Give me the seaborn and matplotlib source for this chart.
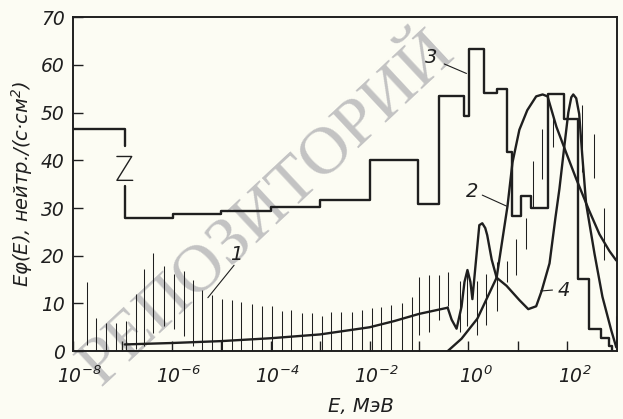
import matplotlib
matplotlib.use('Agg')
import matplotlib.pyplot as plt
import matplotlib.transforms as mtransforms
import numpy as np
import seaborn as sns

# all energies below are log10(E / MeV), values are E*phi(E)

# curve 1 - smooth low-energy part
c1_loge = [-6.95, -6.0, -5.0, -4.0, -3.0, -2.0, -1.5, -1.0, -0.42]
c1_val = [1.4, 1.7, 2.1, 2.7, 3.5, 5.0, 6.3, 7.8, 9.1]

# curve 4 - resonances and the narrow peak near 10^2
c4_loge = [-0.42, -0.34, -0.24, -0.14, -0.08, -0.02, 0.04, 0.08, 0.14, 0.22, 0.28,
           0.34, 0.38, 0.47, 0.57, 0.77, 1.03, 1.21, 1.37, 1.48, 1.64, 1.76, 1.84,
           1.94, 2.02, 2.08, 2.12, 2.18, 2.24, 2.30, 2.38, 2.55, 2.71, 2.89, 2.99]
c4_val = [9.1, 6.6, 4.7, 9.3, 14.5, 17.0, 14.5, 10.9, 17.6, 26.4, 26.8,
          25.8, 24.3, 19.2, 15.4, 13.7, 10.7, 8.8, 9.4, 12.6, 18.4, 28.0, 34.0,
          43.0, 50.0, 53.2, 53.8, 53.0, 49.7, 41.3, 30.9, 20.4, 11.4, 4.3, 0.8]

# curve 2 - wide bell
c2_loge = [-0.42, -0.14, 0.18, 0.57, 0.79, 0.89, 1.03, 1.19, 1.37, 1.50, 1.60,
           1.78, 1.98, 2.18, 2.44, 2.65, 2.85, 2.99]
c2_val = [0.0, 2.6, 6.8, 15.4, 30.4, 39.5, 46.4, 50.5, 53.4, 53.8, 53.4,
          47.0, 41.5, 36.1, 29.5, 24.5, 21.0, 19.0]

# curve 3 - group histogram
h3_edges = [-8.0, -6.95, -5.98, -5.0, -4.0, -3.0, -2.0, -1.03, -0.59, -0.08, 0.02,
            0.32, 0.57, 0.79, 0.89, 1.07, 1.27, 1.60, 1.94, 2.22, 2.44, 2.69, 2.85, 2.91]
h3_val = [46.5, 28.0, 28.7, 29.4, 30.2, 31.7, 40.1, 30.8, 53.4, 49.2, 63.3,
          54.2, 55.0, 41.8, 28.4, 32.6, 30.0, 53.8, 48.7, 15.2, 4.7, 2.8, 1.0]
# axis break on the first drop
brk_top, brk_bot = 42.9, 34.6
z_loge = [-7.11, -6.81, -7.11, -6.79]
z_val = [40.8, 40.8, 35.8, 35.8]

# hatching (uncertainty bars)
hat_loge = [-7.72, -7.54, -7.33, -7.13, -6.93, -6.73, -6.57, -6.38, -6.16, -5.96,
            -5.76, -5.58, -5.39, -5.19, -4.99, -4.79, -4.59, -4.38, -4.18, -3.98,
            -3.78, -3.58, -3.37, -3.17, -2.97, -2.77, -2.57, -2.36, -2.16, -1.96,
            -1.76, -1.56, -1.35, -1.15, -0.99, -0.79, -0.59, -0.42, -0.18, -0.02,
            0.18, 0.36, 0.57, 0.77, 0.97, 1.17, 1.31, 1.49, 1.72, 2.30, 2.53, 2.75, 2.99]
hat_hi = [14.4, 6.9, 5.8, 5.8, 6.4, 12.0, 17.2, 20.5, 17.8, 16.1,
          16.7, 15.0, 12.9, 11.8, 11.0, 10.7, 10.2, 9.8, 9.5, 9.5,
          8.4, 8.6, 7.9, 7.9, 7.4, 8.2, 8.2, 8.3, 8.7, 9.1,
          9.3, 9.7, 10.1, 11.4, 15.5, 15.9, 15.9, 16.5, 14.8, 16.8,
          14.7, 16.1, 18.6, 18.8, 23.6, 27.8, 39.9, 46.5, 49.0, 51.5, 45.6, 30.1, 7.3]
hat_lo = [1.2, 0, 0, 0, 0, 0.5, 1.1, 3.8, 5.3, 4.6,
          3.1, 1.0, 0, 0, 0, 0, 0, 0, 0, 0,
          0, 0, 0, 0, 0, 0, 0, 0, 0, 0,
          0, 0, 0, 0, 3.4, 4.0, 6.5, 9.5, 4.1, 5.3,
          3.4, 5.4, 8.5, 14.4, 16.0, 21.5, 30.3, 36.1, 42.7, 37.5, 36.2, 19.0, 0.8]

y_ticks = [0, 10, 20, 30, 40, 50, 60, 70]
x_ticks = [-8, -7, -6, -5, -4, -3, -2, -1, 0, 1, 2]
x_labels = ['$10^{-8}$', '', '$10^{-6}$', '', '$10^{-4}$', '', '$10^{-2}$', '',
            '$10^{0}$', '', '$10^{2}$']

sns.set_theme(style='ticks')
plt.rcParams['font.family'] = ['DejaVu Sans']
plt.rcParams['font.style'] = 'italic'
plt.rcParams['mathtext.fontset'] = 'dejavusans'
plt.rcParams['mathtext.default'] = 'it'

ink = '#1f1f1f'
bg = '#fcfcf3'

fig = plt.figure(figsize=(6.23, 4.19), dpi=100, facecolor=bg)
ax = fig.add_axes([0.117, 0.162, 0.873, 0.797])
ax.set_facecolor(bg)
ax.set_xscale('log')

E = lambda v: 10 ** np.asarray(v, dtype=float)

# watermark
ax.text(0.43, 0.50, 'РЕПОЗИТОРИЙ', transform=fig.transFigure, rotation=43,
        fontsize=49, family='Liberation Serif', style='normal', color='#c3c3c3',
        ha='center', va='center', zorder=0.5, clip_on=False)

# hatching
ax.vlines(E(hat_loge), hat_lo, hat_hi, color=ink, lw=0.75, zorder=2)

# histogram 3 with the break
ax.plot(E([h3_edges[0], h3_edges[1], h3_edges[1]]), [h3_val[0], h3_val[0], brk_top],
        color=ink, lw=1.7, zorder=3)
sx = [h3_edges[1]]
sy = [brk_bot]
for i in range(1, len(h3_val)):
    sx += [h3_edges[i], h3_edges[i + 1]]
    sy += [h3_val[i], h3_val[i]]
sx.append(h3_edges[-1])
sy.append(0)
ax.plot(E(sx), sy, color=ink, lw=1.7, zorder=3)
ax.plot(E(z_loge), z_val, color=ink, lw=1.0, zorder=3)

# smooth curves
for xs, ys in [(c1_loge, c1_val), (c4_loge, c4_val), (c2_loge, c2_val)]:
    sns.lineplot(x=E(xs), y=ys, sort=False, estimator=None, color=ink, lw=1.7,
                 ax=ax, zorder=4)

# curve numbers
lab_kw = dict(color=ink, fontsize=14, zorder=5)
ax.text(E(-0.75), 61.5, '3', ha='center', va='center', **lab_kw)
ax.plot(E([-0.49, -0.04]), [60.2, 58.2], color=ink, lw=0.8)
ax.text(E(0.08), 33.5, '2', ha='center', va='center', **lab_kw)
ax.plot(E([0.28, 0.77]), [32.7, 30.4], color=ink, lw=0.8)
ax.text(E(1.80), 12.8, '4', ha='left', va='center', **lab_kw)
ax.plot(E([1.46, 1.70]), [12.6, 12.8], color=ink, lw=0.8)
ax.text(E(-4.69), 20.3, '1', ha='center', va='center', **lab_kw)
ax.plot(E([-4.74, -5.27]), [18.0, 11.2], color=ink, lw=0.8)

ax.set_xlim(E(-8), E(3))
ax.set_ylim(0, 70)
ax.set_xticks(E(x_ticks))
ax.set_xticklabels(x_labels)
ax.xaxis.set_minor_locator(matplotlib.ticker.NullLocator())
ax.set_yticks(y_ticks)
ax.tick_params(axis='both', direction='in', length=7, width=1.0, colors=ink,
               labelsize=13.5)
ax.tick_params(axis='x', pad=10)
ax.tick_params(axis='y', pad=6)
shift = mtransforms.ScaledTranslation(7 / 100, 0, fig.dpi_scale_trans)
for lab in ax.get_xticklabels():
    lab.set_transform(lab.get_transform() + shift)
for sp in ax.spines.values():
    sp.set_visible(True)
    sp.set_color(ink)
    sp.set_linewidth(1.4)
ax.set_xlabel('')
ax.set_ylabel('')

ax.text(0.53, -0.165, 'E, МэВ', transform=ax.transAxes, ha='center', va='center',
        fontsize=14, color=ink)
ax.text(-0.094, 0.5, 'Eφ(E), нейтр./(с·см$^2$)', transform=ax.transAxes,
        rotation=90, ha='center', va='center', fontsize=14, color=ink)

fig.savefig('out.png', dpi=100, facecolor=bg)
